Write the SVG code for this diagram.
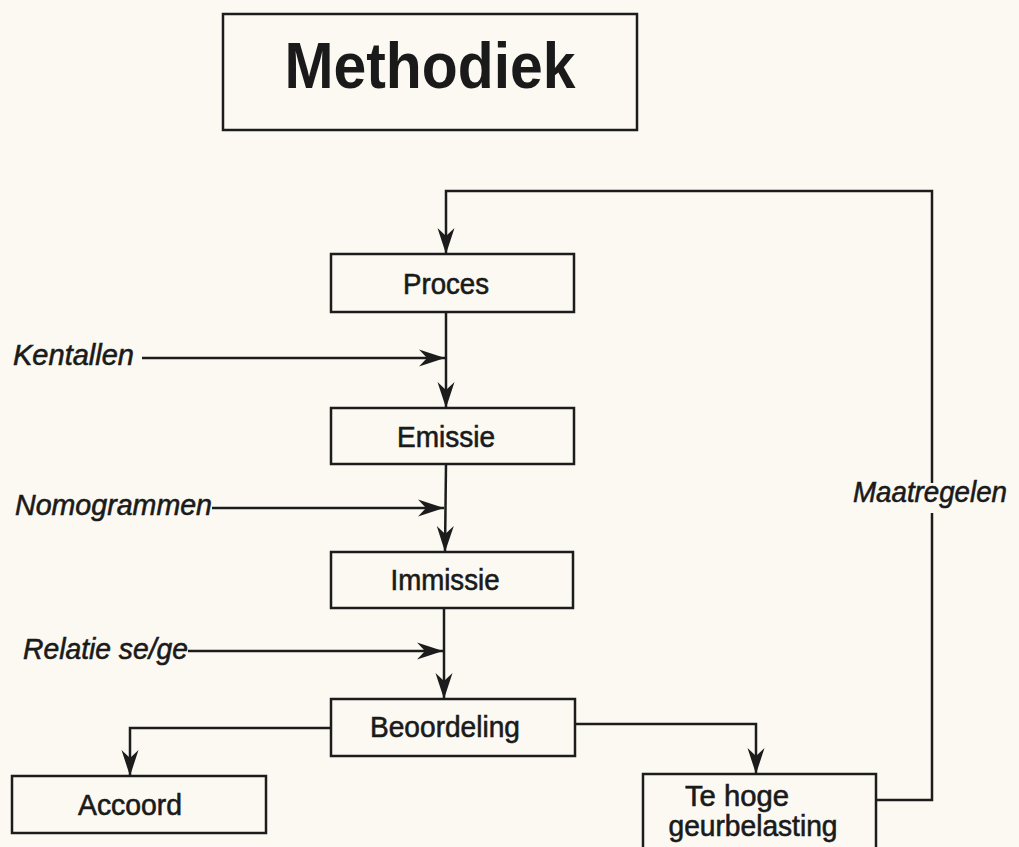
<svg xmlns="http://www.w3.org/2000/svg" width="1019" height="847" viewBox="0 0 1019 847">
<style>
.box{fill:none;stroke:#1c1c1c;stroke-width:2.5}
.ln{fill:none;stroke:#1c1c1c;stroke-width:2.5}
.t{font-family:"Liberation Sans",Arial,sans-serif;font-size:29px;fill:#1a1a1a;text-anchor:middle;stroke:#1a1a1a;stroke-width:0.6}
.lbl{font-family:"Liberation Sans",Arial,sans-serif;font-size:30px;font-style:italic;fill:#1a1a1a;stroke:#1a1a1a;stroke-width:0.6}
.title{font-family:"Liberation Sans",Arial,sans-serif;font-size:64px;font-weight:bold;fill:#1a1a1a;text-anchor:middle}
</style>
<defs>
<marker id="ah" markerUnits="userSpaceOnUse" markerWidth="32" markerHeight="24" viewBox="-28 -12 30 24" refX="0" refY="0" orient="auto">
<path d="M0,0 L-26,-8.5 L-18,0 L-26,8.5 Z" fill="#1c1c1c"/>
</marker>
</defs>
<rect width="1019" height="847" fill="#fbf9f2"/>
<g id="title">
<rect class="box" x="223" y="14" width="414" height="116"/>
<text class="title" x="430" y="88" textLength="291" lengthAdjust="spacingAndGlyphs">Methodiek</text>
</g>
<g id="proces">
<rect class="box" x="331" y="254" width="243" height="58"/>
<text class="t" x="446" y="294" textLength="86" lengthAdjust="spacingAndGlyphs">Proces</text>
</g>
<g id="emissie">
<rect class="box" x="331" y="408" width="243" height="56"/>
<text class="t" x="446" y="447" textLength="98" lengthAdjust="spacingAndGlyphs">Emissie</text>
</g>
<g id="immissie">
<rect class="box" x="331" y="552" width="242" height="56"/>
<text class="t" x="445" y="590" textLength="109" lengthAdjust="spacingAndGlyphs">Immissie</text>
</g>
<g id="beoordeling">
<rect class="box" x="331" y="699" width="244" height="57"/>
<text class="t" x="445" y="737" textLength="150" lengthAdjust="spacingAndGlyphs">Beoordeling</text>
</g>
<g id="accoord">
<rect class="box" x="12" y="776" width="254" height="57"/>
<text class="t" x="130" y="815" textLength="104" lengthAdjust="spacingAndGlyphs">Accoord</text>
</g>
<g id="tehoge">
<rect class="box" x="643" y="774" width="233" height="95"/>
<text class="t" x="737" y="806" textLength="104" lengthAdjust="spacingAndGlyphs">Te hoge</text>
<text class="t" x="753" y="836" textLength="169" lengthAdjust="spacingAndGlyphs">geurbelasting</text>
</g>
<g id="labels">
<text class="lbl" x="13" y="365" textLength="121" lengthAdjust="spacingAndGlyphs">Kentallen</text>
<text class="lbl" x="15" y="515" textLength="197" lengthAdjust="spacingAndGlyphs">Nomogrammen</text>
<text class="lbl" x="23" y="659" textLength="165" lengthAdjust="spacingAndGlyphs">Relatie se/ge</text>
<text class="lbl" x="853" y="502" textLength="154" lengthAdjust="spacingAndGlyphs">Maatregelen</text>
</g>
<g id="connectors">
<polyline class="ln" points="876,800 932,800 932,513"/>
<polyline class="ln" points="932,483 932,191 446,191 446,254" marker-end="url(#ah)"/>
<line class="ln" x1="446" y1="312" x2="446" y2="408" marker-end="url(#ah)"/>
<line class="ln" x1="142" y1="358" x2="445" y2="358" marker-end="url(#ah)"/>
<line class="ln" x1="446" y1="464" x2="445" y2="552" marker-end="url(#ah)"/>
<line class="ln" x1="212" y1="508" x2="444" y2="508" marker-end="url(#ah)"/>
<line class="ln" x1="444" y1="608" x2="444" y2="699" marker-end="url(#ah)"/>
<line class="ln" x1="188" y1="651" x2="443" y2="651" marker-end="url(#ah)"/>
<polyline class="ln" points="331,728 130,728 130,776" marker-end="url(#ah)"/>
<polyline class="ln" points="575,724 756,724 756,774" marker-end="url(#ah)"/>
</g>
</svg>
